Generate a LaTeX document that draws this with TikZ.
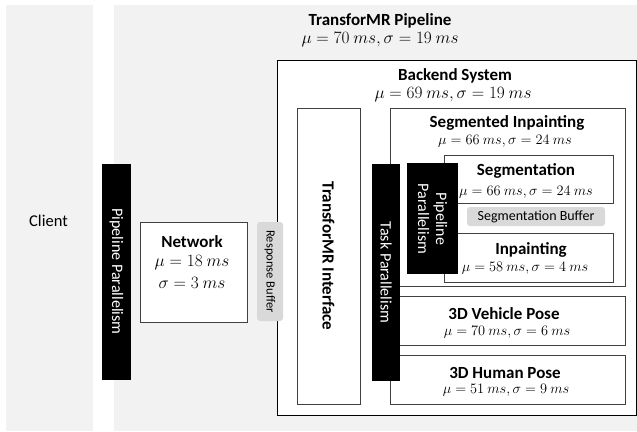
\documentclass[tikz,border=0pt]{standalone}
\usepackage{fontspec}
\setmainfont{Carlito}
\usepackage{tikz}
\usetikzlibrary{backgrounds}
\definecolor{panelgray}{RGB}{242,242,242}
\definecolor{buffergray}{RGB}{217,217,217}
\newcommand{\titlesize}{\fontsize{17}{20}\selectfont}
\newcommand{\barsize}{\fontsize{16}{18}\selectfont}
\newcommand{\statsize}{\fontsize{13.5}{16}\selectfont}
\newcommand{\bigstatsize}{\fontsize{17}{20}\selectfont}
\tikzset{
  panel/.style={fill=panelgray, draw=none},
  box/.style={fill=white, draw=black!75, line width=0.9pt},
  parbar/.style={fill=black, draw=none},
  bartext/.style={text=white, rotate=-90, align=center, font=\barsize, inner sep=0pt},
  buffer/.style={fill=buffergray, draw=none, rounded corners=3pt},
  boxtitle/.style={font=\titlesize\bfseries, inner sep=0pt},
  boxstat/.style={font=\statsize, inner sep=0pt},
}

\begin{document}
\begin{tikzpicture}[x=1pt, y=-1pt]
        \useasboundingbox (0, 0) rectangle (637, 431);

        % Client and Pipeline panels
        \draw[panel] (6, 5) rectangle (93, 431);
        \node[font=\fontsize{16.5}{19}\selectfont] (client) at (48.5, 221) {Client};
        \draw[panel] (114, 5) rectangle (637, 431);
        \node[boxtitle] (pipetitle) at (380, 21) {TransforMR Pipeline};
        \node[font=\bigstatsize, inner sep=0pt] (pipestat) at (380, 40) {$\mu = 70\ ms, \sigma = 19\ ms$};

        % Network and Response Buffer
        \draw[box] (140, 222) rectangle (247, 322);
        \node[boxtitle] (nettitle) at (192, 242) {Network};
        \node[font=\bigstatsize, inner sep=0pt] (netmu) at (192, 263) {$\mu = 18\ ms$};
        \node[font=\bigstatsize, inner sep=0pt] (netsigma) at (192, 283) {$\sigma = 3\ ms$};

        % Backend System
        \draw[box, draw=black] (277, 60) rectangle (636, 415);
        \node[boxtitle] (backtitle) at (455, 76) {Backend System};
        \node[font=\bigstatsize, inner sep=0pt] (backstat) at (453, 95) {$\mu = 69\ ms, \sigma = 19\ ms$};
        \draw[buffer] (257, 222) rectangle (283, 321);
        \node[rotate=-90, font=\fontsize{12.5}{14}\selectfont, inner sep=0pt] (respbuf) at (270, 271.5) {Response Buffer};

        % TransforMR Interface
        \draw[box] (297, 108) rectangle (360, 404);
        \node[boxtitle, rotate=-90] (interface) at (328.5, 256) {TransforMR Interface};

        % Segmented Inpainting
        \draw[box] (390, 108) rectangle (625, 286);
        \node[boxtitle] (segintitle) at (507, 123) {Segmented Inpainting};
        \node[boxstat] (seginstat) at (505, 141) {$\mu = 66\ ms, \sigma = 24\ ms$};
        \draw[box] (444, 155) rectangle (613, 203);
        \node[boxtitle] (segtitle) at (526, 171) {Segmentation};
        \node[boxstat] (segstat) at (526, 192) {$\mu = 66\ ms, \sigma = 24\ ms$};
        \draw[buffer] (467, 207) rectangle (605, 226);
        \node[font=\fontsize{14}{16}\selectfont, inner sep=0pt] (segbuf) at (536, 216.5) {Segmentation Buffer};
        \draw[box] (444, 233) rectangle (613, 282);
        \node[boxtitle] (intitle) at (531, 250) {Inpainting};
        \node[boxstat] (instat) at (525, 268) {$\mu = 58\ ms, \sigma = 4\ ms$};

        % 3D Vehicle Pose
        \draw[box] (390, 296) rectangle (625, 345);
        \node[boxtitle] (vehtitle) at (504, 313.5) {3D Vehicle Pose};
        \node[boxstat] (vehstat) at (507, 332) {$\mu = 70\ ms, \sigma = 6\ ms$};

        % 3D Human Pose
        \draw[box] (390, 355) rectangle (625, 404);
        \node[boxtitle] (humtitle) at (505, 373) {3D Human Pose};
        \node[boxstat] (humstat) at (506, 390) {$\mu = 51\ ms, \sigma = 9\ ms$};

        % Parallelism bars
        \draw[parbar] (102, 164) rectangle (131, 380);
        \node[bartext] (outerpipe) at (116.5, 271.5) {Pipeline Parallelism};
        \draw[parbar] (372, 164) rectangle (400, 381);
        \node[bartext] (taskpar) at (386, 272.5) {Task Parallelism};
        \draw[parbar] (407, 163) rectangle (458, 274);
        \node[bartext] (innerpipe) at (432.5, 219) {Pipeline\\Parallelism};

\end{tikzpicture}
\end{document}
